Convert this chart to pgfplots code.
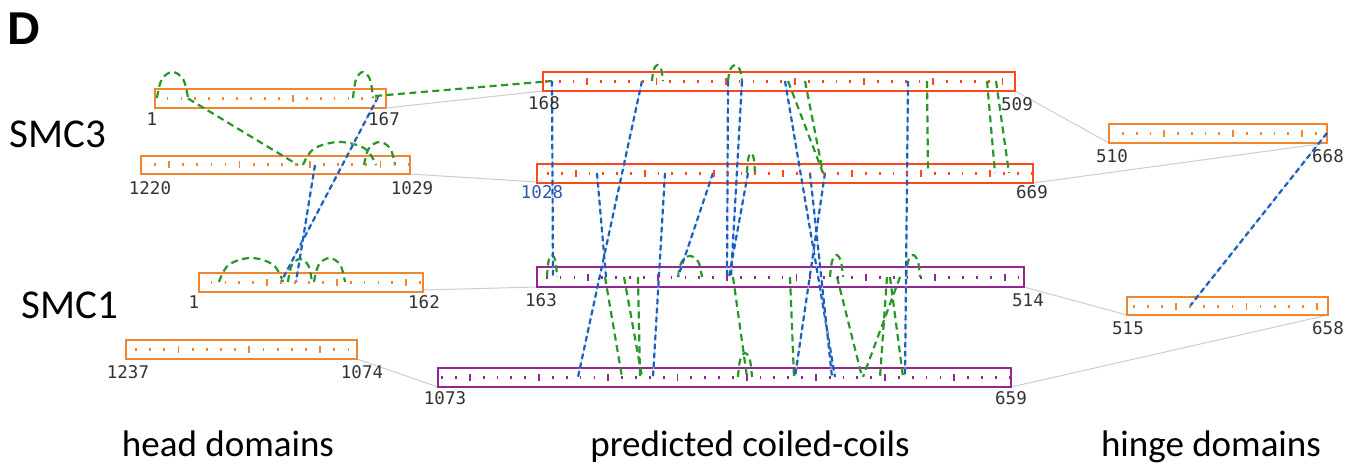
\documentclass[border=0pt]{standalone}
\usepackage{fontspec}
\setmainfont{Carlito}
\newfontfamily\numfont{DejaVu Sans Mono}
\newfontfamily\headfont{Liberation Sans}
\usepackage{pgfplots}
\pgfplotsset{compat=1.18}

\definecolor{headorange}{RGB}{238,134,50}
\definecolor{ccred}{RGB}{255,72,25}
\definecolor{ccpurple}{RGB}{146,38,146}
\definecolor{xlgreen}{RGB}{40,150,40}
\definecolor{xlblue}{RGB}{25,95,190}
\definecolor{linkgrey}{RGB}{205,205,205}
\definecolor{numgrey}{RGB}{50,50,50}
\definecolor{numblue}{RGB}{45,90,170}

\pgfplotsset{
  domainbox/.style={line width=2pt, line join=miter},
  shorttick/.style={only marks, mark=|, mark size=1.5pt, mark options={line width=1.8pt, solid}},
  longtick/.style={only marks, mark=|, mark size=3.5pt, mark options={line width=1.8pt, solid}},
  greenlink/.style={xlgreen, line width=2.2pt, dash pattern=on 7pt off 4.5pt},
  greenloop/.style={greenlink, smooth, tension=0.6},
  bluelink/.style={xlblue, line width=2.2pt, dash pattern=on 5.5pt off 3.5pt,
    preaction={draw, solid, line width=0.8pt, color=xlblue!30}},
  joiner/.style={linkgrey, line width=1pt},
}
\tikzset{
  numlabel/.style={font=\numfont\fontsize{17.5}{18}\selectfont, text=numgrey, inner sep=0pt},
}

% residue ruler inside a domain box: pixel x = a + b*residue
% #1 colour, #2 a, #3 b, #4 minor ticks (residue,y), #5 major ticks (residue,y)
\newcommand\ruler[5]{%
  \addplot[shorttick, #1, x filter/.expression={#2+(#3)*x}] coordinates {#4};
  \addplot[longtick, #1, x filter/.expression={#2+(#3)*x}] coordinates {#5};
}

\begin{document}
\begin{tikzpicture}
\begin{axis}[
  width=1363pt, height=465pt, scale only axis,
  xmin=0, xmax=1363, ymin=0, ymax=465, y dir=reverse,
  hide axis, clip=false,
]

% thin connectors between consecutive segments of each chain
\addplot[joiner] coordinates {(386,108) (543,91)};
\addplot[joiner] coordinates {(410,174) (537,182)};
\addplot[joiner] coordinates {(1015,91) (1109,143)};
\addplot[joiner] coordinates {(1327,143) (1033,183)};
\addplot[joiner] coordinates {(423,290) (537,287)};
\addplot[joiner] coordinates {(1024,287) (1127,315)};
\addplot[joiner] coordinates {(1328,315) (1011,387)};
\addplot[joiner] coordinates {(357,359) (438,387)};

% domain boxes
\addplot[domainbox, headorange] coordinates {(155,89) (386,89) (386,108) (155,108)} -- cycle;
\addplot[domainbox, headorange] coordinates {(141,156) (410,156) (410,174) (141,174)} -- cycle;
\addplot[domainbox, ccred] coordinates {(543,72) (1015,72) (1015,91) (543,91)} -- cycle;
\addplot[domainbox, ccred] coordinates {(537,164) (1033,164) (1033,183) (537,183)} -- cycle;
\addplot[domainbox, headorange] coordinates {(1109,124) (1327,124) (1327,143) (1109,143)} -- cycle;
\addplot[domainbox, headorange] coordinates {(199,273) (423,273) (423,292) (199,292)} -- cycle;
\addplot[domainbox, headorange] coordinates {(126,340) (357,340) (357,359) (126,359)} -- cycle;
\addplot[domainbox, ccpurple] coordinates {(537,267) (1024,267) (1024,287) (537,287)} -- cycle;
\addplot[domainbox, ccpurple] coordinates {(438,368) (1011,368) (1011,387) (438,387)} -- cycle;
\addplot[domainbox, headorange] coordinates {(1127,297) (1328,297) (1328,315) (1127,315)} -- cycle;

% rulers (every 10 residues, longer every 50)
\ruler{headorange}{153.61}{1.3916}
  {(10,98.5)(20,98.5)(30,98.5)(40,98.5)(50,98.5)(60,98.5)(70,98.5)(80,98.5)(90,98.5)(110,98.5)(120,98.5)(130,98.5)(140,98.5)(150,98.5)(160,98.5)}
  {(100,98.5)}
\ruler{headorange}{1859.25}{-1.4084}
  {(1030,165)(1040,165)(1060,165)(1070,165)(1080,165)(1090,165)(1110,165)(1120,165)(1130,165)(1140,165)(1160,165)(1170,165)(1180,165)(1190,165)(1210,165)}
  {(1050,165)(1100,165)(1150,165)(1200,165)}
\ruler{ccred}{310.45}{1.3842}
  {(170,81.5)(180,81.5)(190,81.5)(210,81.5)(220,81.5)(230,81.5)(240,81.5)(260,81.5)(270,81.5)(280,81.5)(290,81.5)(310,81.5)(320,81.5)(330,81.5)(340,81.5)(360,81.5)(370,81.5)(380,81.5)(390,81.5)(410,81.5)(420,81.5)(430,81.5)(440,81.5)(460,81.5)(470,81.5)(480,81.5)(490,81.5)}
  {(200,81.5)(250,81.5)(300,81.5)(350,81.5)(400,81.5)(450,81.5)(500,81.5)}
\ruler{ccred}{1957.28}{-1.3816}
  {(670,173.5)(680,173.5)(690,173.5)(710,173.5)(720,173.5)(730,173.5)(740,173.5)(760,173.5)(770,173.5)(780,173.5)(790,173.5)(810,173.5)(820,173.5)(830,173.5)(840,173.5)(860,173.5)(870,173.5)(880,173.5)(890,173.5)(910,173.5)(920,173.5)(930,173.5)(940,173.5)(960,173.5)(970,173.5)(980,173.5)(990,173.5)(1010,173.5)(1020,173.5)}
  {(700,173.5)(750,173.5)(800,173.5)(850,173.5)(900,173.5)(950,173.5)(1000,173.5)}
\ruler{headorange}{405.35}{1.3797}
  {(520,133.5)(530,133.5)(540,133.5)(560,133.5)(570,133.5)(580,133.5)(590,133.5)(610,133.5)(620,133.5)(630,133.5)(640,133.5)(660,133.5)}
  {(550,133.5)(600,133.5)(650,133.5)}
\ruler{headorange}{197.61}{1.3913}
  {(10,282.5)(20,282.5)(30,282.5)(40,282.5)(60,282.5)(70,282.5)(80,282.5)(90,282.5)(110,282.5)(120,282.5)(130,282.5)(140,282.5)(160,282.5)}
  {(50,282.5)(100,282.5)(150,282.5)}
\ruler{headorange}{1879.08}{-1.4172}
  {(1080,349.5)(1090,349.5)(1110,349.5)(1120,349.5)(1130,349.5)(1140,349.5)(1160,349.5)(1170,349.5)(1180,349.5)(1190,349.5)(1210,349.5)(1220,349.5)(1230,349.5)}
  {(1100,349.5)(1150,349.5)(1200,349.5)}
\ruler{ccpurple}{310.84}{1.3875}
  {(170,277)(180,277)(190,277)(210,277)(220,277)(230,277)(240,277)(260,277)(270,277)(280,277)(290,277)(310,277)(320,277)(330,277)(340,277)(360,277)(370,277)(380,277)(390,277)(410,277)(420,277)(430,277)(440,277)(460,277)(470,277)(480,277)(490,277)(510,277)}
  {(200,277)(250,277)(300,277)(350,277)(400,277)(450,277)(500,277)}
\ruler{ccpurple}{1923.14}{-1.3841}
  {(660,377.5)(670,377.5)(680,377.5)(690,377.5)(710,377.5)(720,377.5)(730,377.5)(740,377.5)(760,377.5)(770,377.5)(780,377.5)(790,377.5)(810,377.5)(820,377.5)(830,377.5)(840,377.5)(860,377.5)(870,377.5)(880,377.5)(890,377.5)(910,377.5)(920,377.5)(930,377.5)(940,377.5)(960,377.5)(970,377.5)(980,377.5)(990,377.5)(1010,377.5)(1020,377.5)(1030,377.5)(1040,377.5)(1060,377.5)(1070,377.5)}
  {(700,377.5)(750,377.5)(800,377.5)(850,377.5)(900,377.5)(950,377.5)(1000,377.5)(1050,377.5)}
\ruler{headorange}{403.12}{1.4056}
  {(520,306)(530,306)(540,306)(560,306)(570,306)(580,306)(590,306)(610,306)(620,306)(630,306)(640,306)}
  {(550,306)(600,306)(650,306)}

% intra-segment crosslinks (loops)
\addplot[greenloop] coordinates {(157,98) (161.7,79.5) (172.5,72) (183.3,79.5) (188,98)};
\addplot[greenloop] coordinates {(353,98) (356,79.5) (363,72) (370,79.5) (373,98)};
\addplot[greenloop] coordinates {(303,165) (314,148.7) (339.5,142) (365,148.7) (376,165)};
\addplot[greenloop] coordinates {(364,165) (368.7,148.7) (379.5,142) (390.3,148.7) (395,165)};
\addplot[greenloop] coordinates {(219,282) (228.6,265) (251,258) (273.4,265) (283,282)};
\addplot[greenloop] coordinates {(288,282) (291.6,265.7) (300,259) (308.4,265.7) (312,282)};
\addplot[greenloop] coordinates {(314,282) (318.7,265) (329.5,258) (340.3,265) (345,282)};
\addplot[greenloop] coordinates {(652,81) (653.7,69.6) (657.5,65) (661.3,69.6) (663,81)};
\addplot[greenloop] coordinates {(728,81) (730.1,69.6) (735,65) (739.9,69.6) (742,81)};
\addplot[greenloop] coordinates {(747,173) (748.2,158.8) (751,153) (753.8,158.8) (755,173)};
\addplot[greenloop] coordinates {(547,277) (548.5,261.4) (552,255) (555.5,261.4) (557,277)};
\addplot[greenloop] coordinates {(678,277) (681.6,262.1) (690,256) (698.4,262.1) (702,277)};
\addplot[greenloop] coordinates {(830,277) (832,261.4) (836.5,255) (841,261.4) (843,277)};
\addplot[greenloop] coordinates {(906,277) (908.1,261.4) (913,255) (917.9,261.4) (920,277)};
\addplot[greenloop] coordinates {(738,377) (740.1,360) (745,353) (749.9,360) (752,377)};

% crosslinks within one protein
\addplot[greenlink] coordinates {(188,98.5) (298,165)};
\addplot[greenlink] coordinates {(375,96) (552,81)};
\addplot[greenlink] coordinates {(605,277) (622,377)};
\addplot[greenlink] coordinates {(624,277) (642,377)};
\addplot[greenlink] coordinates {(638,277) (640,377)};
\addplot[greenlink] coordinates {(733,277) (747,377)};
\addplot[greenlink] coordinates {(788,81) (823,173)};
\addplot[greenlink] coordinates {(805,81) (823,173)};
\addplot[greenlink] coordinates {(790,277) (794,377)};
\addplot[greenlink] coordinates {(837,277) (862,377)};
\addplot[greenlink] coordinates {(900,277) (863,377)};
\addplot[greenlink] coordinates {(887,277) (880,377)};
\addplot[greenlink] coordinates {(890,277) (903,377)};
\addplot[greenlink] coordinates {(927,81) (928,173)};
\addplot[greenlink] coordinates {(987,81) (995,173)};
\addplot[greenlink] coordinates {(996,81) (1009,173)};

% crosslinks between SMC3 and SMC1
\addplot[bluelink] coordinates {(378,97) (281,282)};
\addplot[bluelink] coordinates {(315,165) (296,282)};
\addplot[bluelink] coordinates {(552,81) (553,277)};
\addplot[bluelink] coordinates {(642,81) (578,377)};
\addplot[bluelink] coordinates {(597,173) (606,277)};
\addplot[bluelink] coordinates {(665,173) (653,377)};
\addplot[bluelink] coordinates {(713,173) (678,277)};
\addplot[bluelink] coordinates {(728,81) (727,277)};
\addplot[bluelink] coordinates {(742,81) (731,277)};
\addplot[bluelink] coordinates {(748,173) (729,277)};
\addplot[bluelink] coordinates {(785,81) (835,377)};
\addplot[bluelink] coordinates {(810,173) (832,377)};
\addplot[bluelink] coordinates {(825,173) (795,377)};
\addplot[bluelink] coordinates {(908,81) (905,377)};
\addplot[bluelink] coordinates {(1327,133) (1190,306)};

% residue numbers at segment ends
\node[numlabel] at (axis cs:152,119) {1};
\node[numlabel] at (axis cs:384,119) {167};
\node[numlabel] at (axis cs:150,188) {1220};
\node[numlabel] at (axis cs:412,188) {1029};
\node[numlabel] at (axis cs:544,103) {168};
\node[numlabel, text=numblue] at (axis cs:542,192) {1028};
\node[numlabel] at (axis cs:1017,104) {509};
\node[numlabel] at (axis cs:1032,192) {669};
\node[numlabel] at (axis cs:1112,156) {510};
\node[numlabel] at (axis cs:1328,156) {668};
\node[numlabel] at (axis cs:194,302) {1};
\node[numlabel] at (axis cs:424,302) {162};
\node[numlabel] at (axis cs:541,300) {163};
\node[numlabel] at (axis cs:1028,300) {514};
\node[numlabel] at (axis cs:128,372) {1237};
\node[numlabel] at (axis cs:362,372) {1074};
\node[numlabel] at (axis cs:445,398) {1073};
\node[numlabel] at (axis cs:1011,398) {659};
\node[numlabel] at (axis cs:1128,328) {515};
\node[numlabel] at (axis cs:1328,328) {658};

% panel letter, protein names and region captions
\node[font=\headfont\bfseries\fontsize{46}{46}\selectfont, inner sep=0pt] at (axis cs:24,29) {D};
\node[font=\fontsize{41}{41}\selectfont, inner sep=0pt] at (axis cs:58,134) {SMC3};
\node[font=\fontsize{41}{41}\selectfont, inner sep=0pt] at (axis cs:70,305) {SMC1};
\node[font=\fontsize{37}{37}\selectfont, anchor=base, inner sep=0pt] at (axis cs:228,456) {head domains};
\node[font=\fontsize{37}{37}\selectfont, anchor=base, inner sep=0pt] at (axis cs:750,456) {predicted coiled-coils};
\node[font=\fontsize{37}{37}\selectfont, anchor=base, inner sep=0pt] at (axis cs:1211,456) {hinge domains};
\end{axis}
\pgfresetboundingbox
\path[use as bounding box] (current axis.south west) rectangle (current axis.north east);
\end{tikzpicture}
\end{document}
